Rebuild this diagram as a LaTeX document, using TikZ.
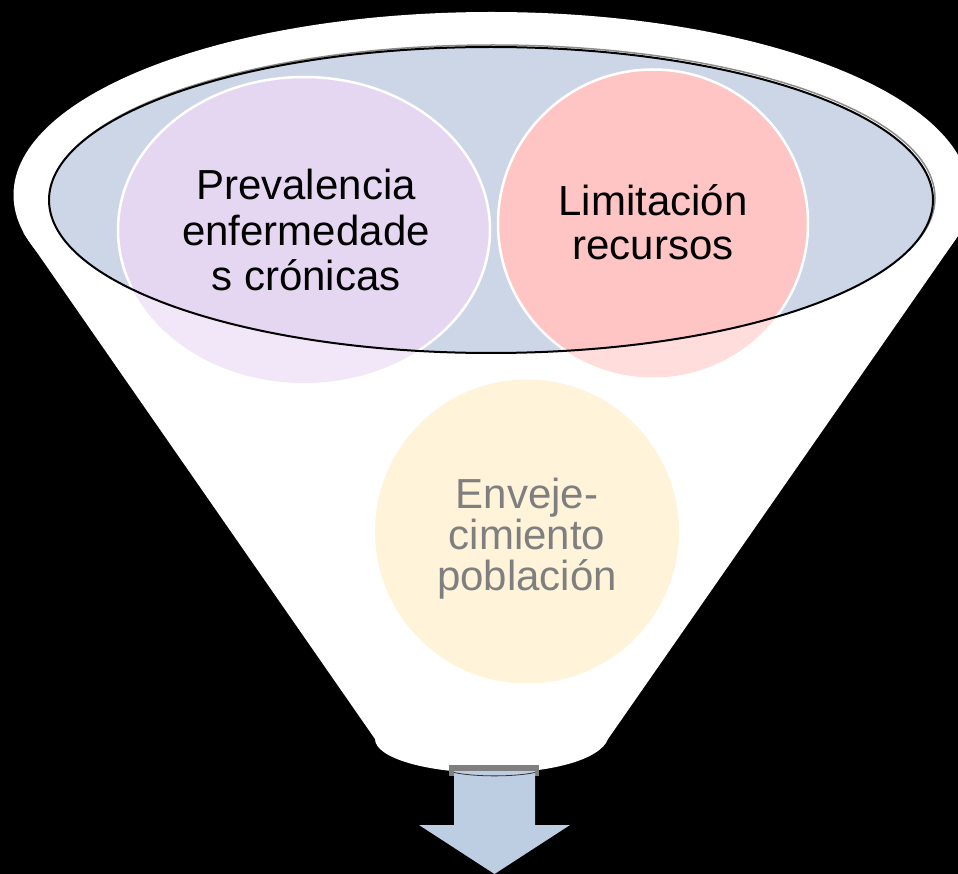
\documentclass[tikz,border=0pt]{standalone}
\usepackage{fontspec}
\setmainfont{Liberation Sans}
\definecolor{bandblue}{HTML}{CCD6E6}
\definecolor{purpin}{HTML}{E5D6F2}
\definecolor{purpout}{HTML}{F1E7F8}
\definecolor{pinkin}{HTML}{FFC5C5}
\definecolor{pinkout}{HTML}{FFDDDD}
\definecolor{yelfill}{HTML}{FFF4DA}
\definecolor{arrowblue}{HTML}{BDCDE2}
\definecolor{textgray}{HTML}{7F7F7F}
\tikzset{
  lbl/.style={align=center, inner sep=0pt, font=\fontsize{42}{44}\selectfont},
  rim/.style={draw=white, line width=2.5pt},
}
\begin{document}
\begin{tikzpicture}[x=1pt,y=-1pt]
\useasboundingbox (0,0) rectangle (958,874);
\fill[black] (0,0) rectangle (958,874);
% funnel body
\fill[white] (491.5,195) ellipse [x radius=478pt, y radius=183pt];
\fill[white] (40,200) -- (23.5,233) -- (375,739)
  .. controls (375,758) and (427,773) .. (491.5,773)
  .. controls (550,773) and (600,760) .. (608,739)
  -- (960,233) -- (943,200) -- cycle;
% arrow
\fill[textgray] (449,765) rectangle (539,776);
\fill[arrowblue] (454,771) -- (535,771) -- (535,825) -- (570,825)
  -- (494.5,874) -- (419,825) -- (454,825) -- cycle;
\draw[black!80, line width=0.8pt] (454,772.5) .. controls (475,777) and (514,777) .. (535,772.5);
% top band
\draw[black!45, line width=1.5pt] (493,198) ellipse [x radius=442pt, y radius=153pt];
\fill[bandblue] (491,200) ellipse [x radius=442pt, y radius=153pt];
% circles
\fill[purpout] (304,230) ellipse [x radius=186pt, y radius=153pt];
\fill[pinkout] (653,223.5) ellipse [x radius=155pt, y radius=154pt];
\begin{scope}
  \clip (491,200) ellipse [x radius=442pt, y radius=153pt];
  \fill[purpin] (304,230) ellipse [x radius=186pt, y radius=153pt];
  \fill[pinkin] (653,223.5) ellipse [x radius=155pt, y radius=154pt];
  \draw[rim] (304,230) ellipse [x radius=186pt, y radius=153pt];
  \draw[rim] (653,223.5) ellipse [x radius=155pt, y radius=154pt];
\end{scope}
\fill[yelfill] (527,531.5) circle [radius=152pt];
\draw[black, line width=2pt] (491,200) ellipse [x radius=442pt, y radius=153pt];
% labels
\node[lbl, font=\fontsize{42}{45.5}\selectfont] (prev) at (306,230) {Prevalencia\\enfermedade\\s crónicas};
\node[lbl] (limit) at (653,222) {Limitación\\recursos};
\node[lbl, text=textgray, font=\fontsize{42}{41}\selectfont] (envej) at (527,539) {Enveje-\\cimiento\\población};
\end{tikzpicture}
\end{document}
